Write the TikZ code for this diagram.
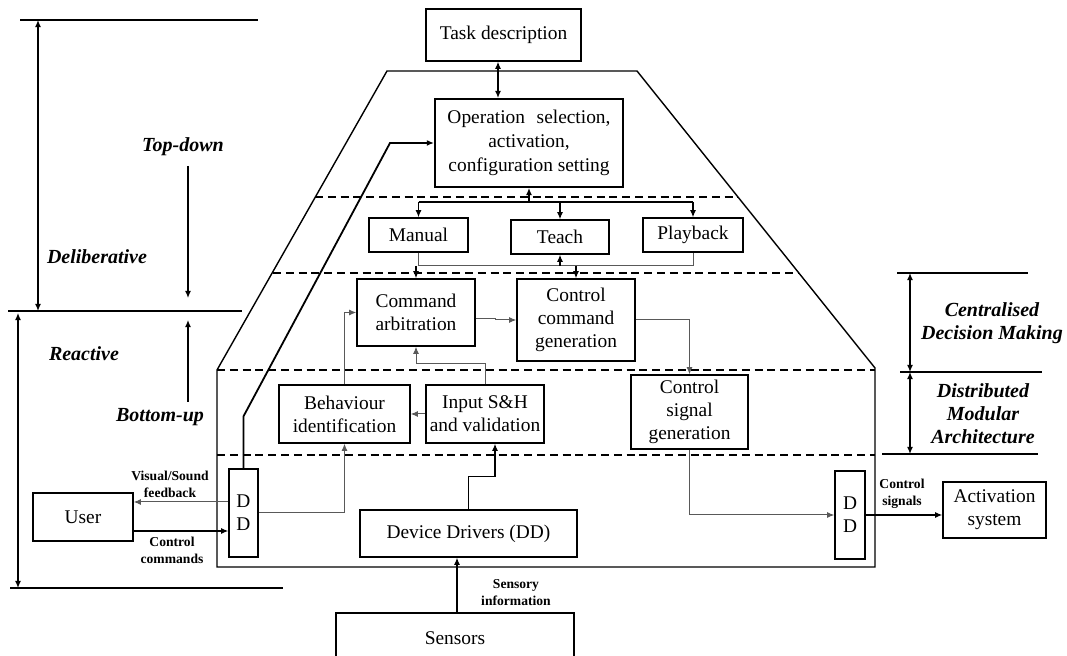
\documentclass[tikz,border=0pt]{standalone}
\usepackage{fontspec}
\setmainfont{Liberation Serif}
\usetikzlibrary{arrows.meta}
\begin{document}
\begin{tikzpicture}[x=0.5pt,y=-0.5pt,
  >={Latex[length=3.6pt,width=3pt]},
  box/.style={draw,line width=0.7pt,align=center,inner sep=0pt,
    font=\fontsize{9.7}{11.5}\selectfont},
  conn/.style={draw=black!65,line width=0.5pt},
  dark/.style={draw=black,line width=0.6pt},
  layer/.style={dashed,dash pattern=on 4pt off 2.4pt,line width=0.6pt},
  rule/.style={line width=0.6pt},
  tag/.style={font=\fontsize{6.8}{8.5}\selectfont\bfseries,align=center,inner sep=0pt},
  mode/.style={font=\fontsize{10}{11.5}\selectfont\bfseries\itshape,align=center,inner sep=0pt}]
\useasboundingbox (0,0) rectangle (1067,656);

% ---- layered frame ----
\draw[line width=0.7pt] (217,567) -- (217,370) -- (387,71) -- (637,71) -- (875,368) -- (875,567) -- cycle;
\draw[layer] (315,197) -- (738,197);
\draw[layer] (273,273) -- (799,273);
\draw[layer] (217,370) -- (875,370);
\draw[layer,line width=0.9pt] (217,455) -- (875,455);

% ---- blocks ----
\node[box,minimum width=77.5pt,minimum height=26pt] (task) at (503.5,35) {Task description};
\node[box,line width=1pt,minimum width=94pt,minimum height=44pt,font=\fontsize{9.7}{12}\selectfont] (op) at (529,143)
  {Operation\hspace{0.6em}selection,\\activation,\\configuration setting};
\node[box,minimum width=49.5pt,minimum height=17pt] (manual) at (418.5,235) {Manual};
\node[box,minimum width=49pt,minimum height=17pt] (teach) at (560,237) {Teach};
\node[box,minimum width=50pt,minimum height=17pt] (playback) at (693,235) {Playback};
\node[box,minimum width=59pt,minimum height=33.5pt] (cmdarb) at (416,312.5) {Command\\arbitration};
\node[box,minimum width=59pt,minimum height=41pt] (ccg) at (576,320) {Control\\command\\generation};
\node[box,minimum width=65.5pt,minimum height=29pt] (behav) at (344.5,414) {Behaviour\\identification};
\node[box,minimum width=59pt,minimum height=29pt] (input) at (485,414) {Input S\&H\\and validation};
\node[box,minimum width=58.5pt,minimum height=37pt] (csg) at (689.5,412) {Control\\signal\\generation};
\node[box,minimum width=50pt,minimum height=24pt] (user) at (83,517) {User};
\node[box,minimum width=14.5pt,minimum height=44pt] (ddl) at (243.5,513) {D\\D};
\node[box,minimum width=15pt,minimum height=44pt] (ddr) at (850,515) {D\\D};
\node[box,minimum width=51.5pt,minimum height=28pt] (act) at (994.5,510) {Activation\\system};
\node[box,minimum width=108.5pt,minimum height=23.5pt] (devdrv) at (468.5,533.5) {Device Drivers (DD)};
\node[box,minimum width=119pt,minimum height=25pt] (sensors) at (455,638) {Sensors};

% ---- connectors ----
\draw[dark,<->] ([xshift=-2.75pt]task.south) -- ([xshift=-2.75pt]task.south |- op.north);

\coordinate (busT) at (529,202);
\coordinate (busB) at (529,266);
\draw[dark,->] (busT) -- (op.south);
\draw[dark] (manual.north |- busT) -- (playback.north |- busT);
\draw[dark,->] (manual.north |- busT) -- (manual.north);
\draw[dark,->] (teach.north |- busT) -- (teach.north);
\draw[dark,->] (playback.north |- busT) -- (playback.north);

\draw[conn] (manual.south) -- (manual.south |- busB) -- (playback.south |- busB) -- (playback.south);
\draw[dark,->] (teach.south |- busB) -- (teach.south);
\draw[dark,->] (cmdarb.north |- busB) -- (cmdarb.north);
\draw[dark,->] (ccg.north |- busB) -- (ccg.north);

\draw[conn,->] ([yshift=-3pt]cmdarb.east) -- ++(20,0) |- (ccg.west);
\draw[conn,->] (behav.north) |- (cmdarb.west);
\draw[conn,->] (input.north) -- ++(0,-21) -| (cmdarb.south);
\draw[conn,->] (input.west) -- (behav.east);
\draw[conn,->] (ccg.east) -| (csg.north);
\draw[conn,->] (csg.south) |- (ddr.west);
\draw[dark,->] (ddr.east) -- (ddr.east -| act.west);

\coordinate (fb) at (0,502);
\coordinate (cc) at (0,531);
\draw[conn,->] (ddl.west |- fb) -- (user.east |- fb);
\draw[dark,->] (user.east |- cc) -- (ddl.west |- cc);
\draw[conn,->] (ddl.east) -| (behav.south);

\coordinate (bend) at (390,143);
\draw[line width=0.9pt,->] (ddl.north) -- ++(0,-52) -- (bend) -- (op.west);

\draw[dark,->] (devdrv.north) -- ++(0,-33) -| ([xshift=5pt]input.south);
\draw[dark,->] ([xshift=1pt]sensors.north) -- ([xshift=1pt]sensors.north |- devdrv.south);

% ---- connector labels ----
\node[tag] at (170,484) {Visual/Sound\\feedback};
\node[tag] at (172,550) {Control\\commands};
\node[tag] at (902,494) {Control\\signals};
\node[tag] at (516,593) {Sensory\\information};

% ---- left scale: deliberative / reactive ----
\coordinate (d1) at (20,20);  \coordinate (d2) at (258,20);
\coordinate (m1) at (8,311);  \coordinate (m2) at (242,311);
\coordinate (r1) at (10,588); \coordinate (r2) at (283,588);
\draw[rule] (d1) -- (d2);
\draw[rule] (m1) -- (m2);
\draw[rule] (r1) -- (r2);
\draw[rule,<->] (38,20) -- (38,311);
\draw[rule,<->] (18,313) -- (18,588);
\draw[rule,->] (188,166) -- (188,298);
\draw[rule,->] (188,402) -- (188,320);
\node[mode] at (183,147) {Top-down};
\node[mode] at (97,257) {Deliberative};
\node[mode] at (84,354) {Reactive};
\node[mode] at (160,417) {Bottom-up};

% ---- right scale: centralised / distributed ----
\draw[rule] (897,273) -- (1028,273);
\draw[rule] (900,372) -- (1042,372);
\draw[rule,line width=0.9pt] (882,454) -- (1038,454);
\draw[rule,<->] (910,273) -- (910,372);
\draw[rule,<->] (910,372) -- (910,454);
\node[mode] at (992,323) {Centralised\\Decision Making};
\node[mode] at (983,414) {Distributed\\Modular\\Architecture};
\end{tikzpicture}
\end{document}
